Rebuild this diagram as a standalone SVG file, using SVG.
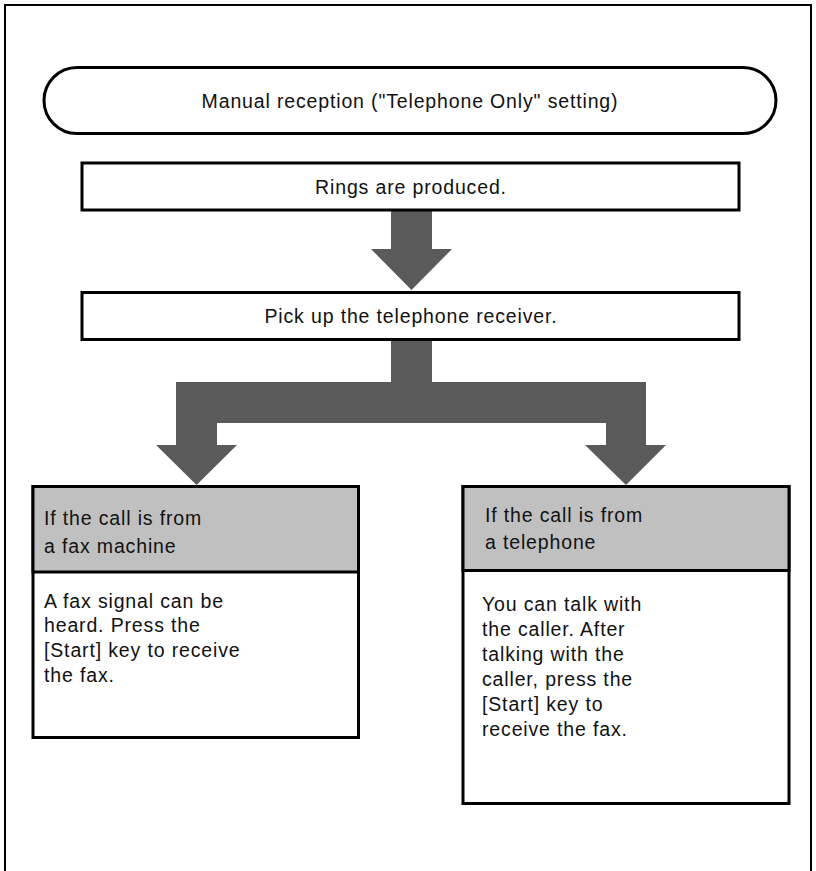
<svg xmlns="http://www.w3.org/2000/svg" width="816" height="871" viewBox="0 0 816 871">
  <style>
    .frame { fill: none; stroke: #000; stroke-width: 2; }
    .box { fill: #fff; stroke: #000; stroke-width: 3; }
    .head { fill: #c0c0c0; stroke: #000; stroke-width: 3; }
    .pill { fill: #fff; stroke: #000; stroke-width: 3; }
    .flow { fill: #5a5a5a; stroke: none; }
    text { font-family: "Liberation Sans", Arial, Helvetica, sans-serif; font-size: 19.5px; fill: #111; letter-spacing: 0.85px; }
    .c { text-anchor: middle; }
  </style>

  <rect width="816" height="871" fill="#fff"/>
  <!-- page frame (open at the bottom) -->
  <rect class="frame" x="5" y="5" width="806" height="900"/>

  <!-- flow arrows -->
  <g id="connectors">
    <polygon class="flow" points="391,210 432,210 432,249 452,249 411.5,290 371,249 391,249"/>
    <polygon class="flow" points="391,339 432,339 432,382 646,382 646,445 666,445 626,485 585,445 606,445 606,423 217,423 217,445 237,445 196.5,485 156,445 176,445 176,382 391,382"/>
  </g>

  <g id="title">
    <rect class="pill" x="44" y="67.5" width="732" height="66" rx="33" ry="33"/>
    <text class="c" x="410" y="107.5">Manual reception ("Telephone Only" setting)</text>
  </g>

  <g id="rings">
    <rect class="box" x="82" y="163" width="657" height="47"/>
    <text class="c" x="411" y="193.5">Rings are produced.</text>
  </g>

  <g id="pickup">
    <rect class="box" x="82" y="292.5" width="657" height="47"/>
    <text class="c" x="411" y="323">Pick up the telephone receiver.</text>
  </g>

  <g id="fax-call">
    <rect class="box" x="33" y="486.5" width="325.5" height="251"/>
    <rect class="head" x="33" y="486.5" width="325.5" height="85.5"/>
    <text x="44" y="525">If the call is from</text>
    <text x="44" y="552.5">a fax machine</text>
    <text x="44" y="607.5">A fax signal can be</text>
    <text x="44" y="632">heard. Press the</text>
    <text x="44" y="656.5">[Start] key to receive</text>
    <text x="44" y="681.5">the fax.</text>
  </g>

  <g id="phone-call">
    <rect class="box" x="463" y="486.5" width="326" height="317"/>
    <rect class="head" x="463" y="486.5" width="326" height="84"/>
    <text x="485" y="521.5">If the call is from</text>
    <text x="485" y="549">a telephone</text>
    <text x="482" y="611">You can talk with</text>
    <text x="482" y="636">the caller. After</text>
    <text x="482" y="661">talking with the</text>
    <text x="482" y="686">caller, press the</text>
    <text x="482" y="710.5">[Start] key to</text>
    <text x="482" y="735.5">receive the fax.</text>
  </g>
</svg>
